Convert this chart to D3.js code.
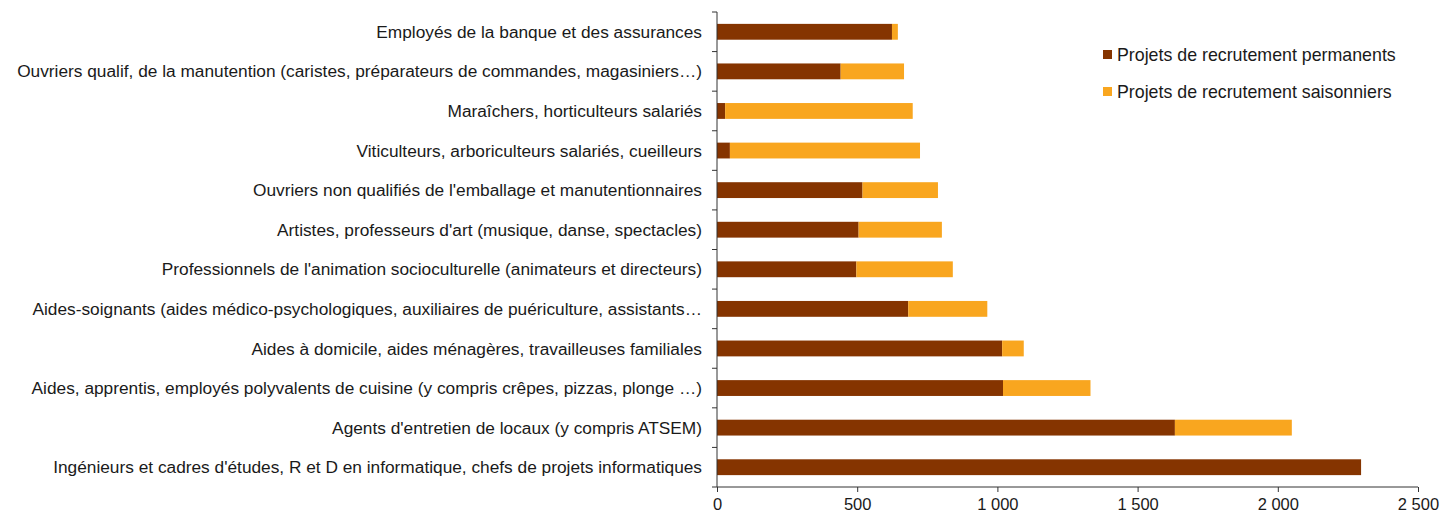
<!DOCTYPE html>
<html>
<head>
<meta charset="utf-8">
<script src="https://d3js.org/d3.v7.min.js"></script>
<style>
  body { margin: 0; background: #fff; }
  text { font-family: "Liberation Sans", Arial, sans-serif; fill: #1a1a1a; }
</style>
</head>
<body>
<svg width="1440" height="510"></svg>
<script>
// categories, top to bottom
var categories = [
  "Employés de la banque et des assurances",
  "Ouvriers qualif, de la manutention (caristes, préparateurs de commandes, magasiniers…)",
  "Maraîchers, horticulteurs salariés",
  "Viticulteurs, arboriculteurs salariés, cueilleurs",
  "Ouvriers non qualifiés de l'emballage et manutentionnaires",
  "Artistes, professeurs d'art (musique, danse, spectacles)",
  "Professionnels de l'animation socioculturelle (animateurs et directeurs)",
  "Aides-soignants (aides médico-psychologiques, auxiliaires de puériculture, assistants…",
  "Aides à domicile, aides ménagères, travailleuses familiales",
  "Aides, apprentis, employés polyvalents de cuisine (y compris crêpes, pizzas, plonge …)",
  "Agents d'entretien de locaux (y compris ATSEM)",
  "Ingénieurs et cadres d'études, R et D en informatique, chefs de projets informatiques"
];
var permanents  = [624, 441, 29, 46, 519, 505, 497, 682, 1017, 1020, 1633, 2297];
var saisonniers = [21, 226, 669, 678, 269, 297, 344, 282, 77, 312, 417, 0];
var seriesNames = ["Projets de recrutement permanents", "Projets de recrutement saisonniers"];
var colors = ["#853400", "#F9A61F"];
var xTicks = [0, 500, 1000, 1500, 2000, 2500];

var svg = d3.select("svg");
var plotLeft = 717, plotRight = 1418, plotTop = 12, plotBottom = 487;

var x = d3.scaleLinear().domain([0, 2500]).range([plotLeft, plotRight]);
var y = d3.scaleBand().domain(categories).range([plotTop, plotBottom]).paddingInner(0.6).paddingOuter(0.3);
var yb = d3.scaleBand().domain(categories).range([plotTop, plotBottom]);

var rows = categories.map(function(c, i) {
  return { cat: c, perm: permanents[i], sais: saisonniers[i] };
});

// permanent bars
svg.selectAll("rect.perm")
  .data(rows)
  .enter().append("rect")
  .attr("class", "perm")
  .attr("x", x(0))
  .attr("y", function(d) { return y(d.cat); })
  .attr("width", function(d) { return x(d.perm) - x(0); })
  .attr("height", y.bandwidth())
  .style("fill", colors[0]);

// seasonal bars stacked after
svg.selectAll("rect.sais")
  .data(rows)
  .enter().append("rect")
  .attr("class", "sais")
  .attr("x", function(d) { return x(d.perm); })
  .attr("y", function(d) { return y(d.cat); })
  .attr("width", function(d) { return x(d.perm + d.sais) - x(d.perm); })
  .attr("height", y.bandwidth())
  .style("fill", colors[1]);

// x axis
var xAxis = svg.append("g")
  .attr("transform", "translate(0," + plotBottom + ")")
  .call(d3.axisBottom(x).tickValues(xTicks).tickSize(5).tickPadding(6)
    .tickFormat(function(d) { return d3.format(",")(d).replace(/,/g, " "); }));
xAxis.select(".domain").attr("stroke", "#333").attr("d", "M" + plotLeft + ",0H" + plotRight);
xAxis.selectAll("line").attr("stroke", "#333");
xAxis.selectAll("text").style("font-size", "16.5px").attr("fill", "#1a1a1a");

// y axis line with tick marks at band boundaries
svg.append("line")
  .attr("x1", plotLeft).attr("x2", plotLeft)
  .attr("y1", plotTop).attr("y2", plotBottom)
  .attr("stroke", "#333");
svg.selectAll("line.ytick")
  .data(categories.concat(["_end"]))
  .enter().append("line")
  .attr("class", "ytick")
  .attr("x1", plotLeft - 5).attr("x2", plotLeft)
  .attr("y1", function(d, i) { return plotTop + i * yb.step(); })
  .attr("y2", function(d, i) { return plotTop + i * yb.step(); })
  .attr("stroke", "#333");

// category labels
svg.selectAll("text.cat")
  .data(categories)
  .enter().append("text")
  .attr("class", "cat")
  .attr("x", plotLeft - 15)
  .attr("y", function(d) { return y(d) + y.bandwidth() / 2; })
  .attr("dy", "0.35em")
  .attr("text-anchor", "end")
  .style("font-size", "17.3px")
  .text(function(d) { return d; });

// legend
var legend = svg.selectAll("g.legend")
  .data(seriesNames)
  .enter().append("g")
  .attr("class", "legend")
  .attr("transform", function(d, i) { return "translate(1103," + (50 + i * 37) + ")"; });
legend.append("rect")
  .attr("width", 9).attr("height", 9)
  .style("fill", function(d, i) { return colors[i]; });
legend.append("text")
  .attr("x", 14).attr("y", 5).attr("dy", "0.35em")
  .style("font-size", "17.8px")
  .text(function(d) { return d; });
</script>
</body>
</html>
